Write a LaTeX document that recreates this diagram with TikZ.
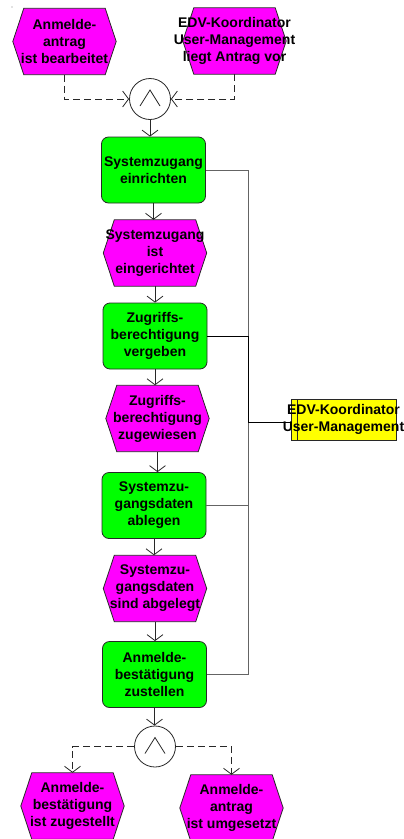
\documentclass[tikz,border=0pt]{standalone}
\usepackage{fontspec}
\setmainfont{Liberation Sans}
\usetikzlibrary{arrows.meta,backgrounds}
\definecolor{evmag}{RGB}{255,0,255}
\definecolor{fngreen}{RGB}{0,255,0}
\definecolor{orgyel}{RGB}{255,255,0}
\definecolor{edge}{RGB}{40,40,40}
\definecolor{busgray}{RGB}{100,100,100}
\begin{document}
\begin{tikzpicture}[x=1pt,y=-1pt,
  txt/.style={font=\fontsize{14}{17}\selectfont\bfseries, align=center, inner sep=0pt},
  event/.style={rectangle, minimum width=103pt, minimum height=66pt, inner sep=0pt},
  func/.style={rectangle, rounded corners=7pt, draw=edge, line width=0.8pt, fill=fngreen,
    minimum width=104pt, minimum height=66pt, inner sep=0pt},
  orgunit/.style={rectangle, draw=edge, line width=0.8pt, fill=orgyel,
    minimum width=105pt, minimum height=41pt, inner sep=0pt,
    path picture={\draw[edge, line width=0.8pt]
      ([xshift=6pt]path picture bounding box.north west) --
      ([xshift=6pt]path picture bounding box.south west);}},
  andop/.style={circle, draw=edge, fill=white, line width=0.8pt, minimum size=41pt, inner sep=0pt,
    path picture={\draw[edge, line width=0.8pt]
      ([xshift=-10pt,yshift=-7pt]path picture bounding box.center) --
      ([yshift=9pt]path picture bounding box.center) --
      ([xshift=10pt,yshift=-7pt]path picture bounding box.center);}},
  flow/.style={line width=0.8pt, draw=edge, -{Straight Barb[length=6pt,width=16pt]}},
  ctrl/.style={flow, dash pattern=on 7pt off 4pt},
  assign/.style={line width=0.9pt},
]
\useasboundingbox (0,0) rectangle (404,839);

% stray mark in the upper left corner
\fill[gray] (12,7) circle (0.6pt);

% events
\node[event, label={[txt]center:{Anmelde-\\antrag\\ist bearbeitet}}] (e1) at (64.5,41.5) {};
\node[event, label={[txt]center:{EDV-Koordinator\\User-Management\\liegt Antrag vor}}] (e2) at (234.5,41) {};
\node[event, label={[txt]center:{Systemzugang\\ist\\eingerichtet}}] (e3) at (155,253) {};
\node[event, label={[txt]center:{Zugriffs-\\berechtigung\\zugewiesen}}] (e4) at (157.5,418.5) {};
\node[event, label={[txt]center:{Systemzu-\\gangsdaten\\sind abgelegt}}] (e5) at (155,588.5) {};
\node[event, label={[txt]center:{Anmelde-\\bestätigung\\ist zugestellt}}] (e6) at (72.5,806) {};
\node[event, label={[txt]center:{Anmelde-\\antrag\\ist umgesetzt}}] (e7) at (231.5,808) {};

% functions
\node[func, label={[txt]center:{Systemzugang\\einrichten}}] (f1) at (153.5,170) {};
\node[func, label={[txt]center:{Zugriffs-\\berechtigung\\vergeben}}] (f2) at (155,336) {};
\node[func, label={[txt]center:{Systemzu-\\gangsdaten\\ablegen}}] (f3) at (154,505.5) {};
\node[func, label={[txt]center:{Anmelde-\\bestätigung\\zustellen}}] (f4) at (154.5,674.5) {};

% operators
\node[andop] (and1) at (150,99) {};
\node[andop] (and2) at (155,746.5) {};

% organisational unit
\node[orgunit, label={[txt]center:{EDV-Koordinator\\User-Management}}] (org) at (343.5,419.5) {};

% event shapes behind their labels
\begin{scope}[on background layer]
  \foreach \n in {e1,e2,e3,e4,e5,e6,e7}
    \filldraw[fill=evmag, draw=edge, line width=0.8pt]
      (\n.west) -- ([xshift=11pt]\n.north west) -- ([xshift=-11pt]\n.north east) --
      (\n.east) -- ([xshift=-11pt]\n.south east) -- ([xshift=11pt]\n.south west) -- cycle;
\end{scope}

% control flow
\draw[ctrl] (e1.south) |- (and1.west);
\draw[ctrl] (e2.south) |- (and1.east);
\draw[flow] (and1.south) -- (and1.south |- f1.north);
\draw[flow] (f1.south) -- (f1.south |- e3.north);
\draw[flow] (e3.south) -- (e3.south |- f2.north);
\draw[flow] (f2.south) -- (f2.south |- e4.north);
\draw[flow] (e4.south) -- (e4.south |- f3.north);
\draw[flow] (f3.south) -- (f3.south |- e5.north);
\draw[flow] (e5.south) -- (e5.south |- f4.north);
\draw[flow] (f4.south) -- (f4.south |- and2.north);
\draw[ctrl] (and2.west) -| (e6.north);
\draw[ctrl] (and2.east) -| (e7.north);

% assignments to the organisational unit
\coordinate (bus) at (248,422);
\draw[assign, busgray] (f1.east) -| (bus);
\draw[assign, black] (f2.east) -| (bus);
\draw[assign, busgray] (f3.east) -| (bus);
\draw[assign, busgray] (f4.east) -| (bus);
\draw[assign, black] (bus) -- (org.west |- bus);
\end{tikzpicture}
\end{document}
